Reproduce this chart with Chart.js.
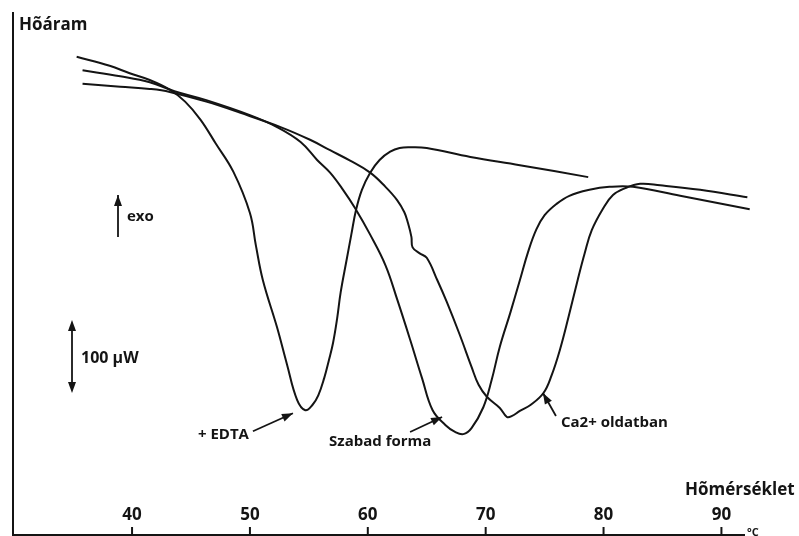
<!DOCTYPE html>
<html>
<head>
<meta charset="utf-8">
<script src="https://cdn.jsdelivr.net/npm/chart.js@4.4.0/dist/chart.umd.min.js"></script>
<style>
  body { margin: 0; background: #fff; }
  #wrap { width: 799px; height: 536px; }
</style>
</head>
<body>
<div id="wrap"><canvas id="dsc" width="799" height="536"></canvas></div>
<script>
// tick labels on the temperature axis (°C)
const xTicks = [40, 50, 60, 70, 80, 90];

// + EDTA
const edtaTemp = [35.3, 38.1, 39.8, 41.5, 43.2, 44.5, 45.8, 47.1, 48.6, 50.0, 50.5, 51.1, 52.3, 53.15, 54.0, 54.7, 55.3, 55.8, 56.3, 56.7, 57.05, 57.4, 57.7, 58.2, 58.6, 59.0, 59.5, 60.2, 61.0, 61.9, 62.7, 63.6, 65.0, 68.7, 72.9, 78.7];
const edtaFlow = [640, 628, 618, 609, 596, 580, 556, 524, 486, 431, 388, 341, 278, 228, 181, 167, 174, 187, 210, 234, 257, 290, 325, 368, 402, 435, 462, 485, 502, 513, 518, 519, 518, 506, 495, 479];

// Szabad forma
const freeTemp = [35.8, 39.0, 41.5, 43.6, 46.3, 50.0, 52.3, 54.3, 55.7, 56.8, 57.9, 58.9, 60.2, 61.5, 62.5, 63.6, 64.6, 65.5, 66.6, 67.4, 68.1, 68.8, 69.8, 70.5, 71.2, 72.1, 72.9, 73.6, 74.3, 75.0, 76.0, 77.1, 78.8, 80.5, 82.5, 86.5, 92.4];
const freeFlow = [622, 614, 606, 594, 582, 562, 546, 526, 502, 485, 462, 438, 402, 361, 315, 261, 210, 167, 147, 138, 135, 143, 171, 207, 252, 298, 341, 379, 409, 428, 443, 454, 462, 466, 466, 454, 436];

// Ca2+ oldatban
const caTemp = [35.8, 39.0, 41.5, 43.2, 46.3, 49.2, 52.6, 55.1, 56.8, 58.5, 60.2, 61.5, 62.5, 63.1, 63.4, 63.7, 63.8, 64.4, 65.0, 65.9, 66.7, 67.8, 68.8, 69.4, 70.1, 71.2, 71.8, 72.2, 72.9, 73.8, 74.9, 75.6, 76.3, 77.0, 77.8, 78.4, 79.0, 80.0, 80.8, 81.8, 83.1, 84.8, 88.2, 92.2];
const caFlow = [604, 600, 597, 593, 580, 565, 546, 529, 515, 501, 485, 466, 448, 432, 418, 399, 385, 377, 371, 341, 312, 268, 225, 201, 185, 170, 158, 159, 166, 174, 190, 214, 248, 290, 341, 377, 408, 438, 455, 464, 470, 468, 462, 452];

function pairs(xs, ys) {
    return xs.map((x, i) => ({ x: x, y: ys[i] }));
}

const INK = '#141414';
const FONT = '"Open Sans", "DejaVu Sans", sans-serif';

function arrowHead(ctx, x1, y1, x2, y2, len, half) {
    const a = Math.atan2(y2 - y1, x2 - x1);
    ctx.beginPath();
    ctx.moveTo(x2, y2);
    ctx.lineTo(x2 - len * Math.cos(a) + half * Math.sin(a), y2 - len * Math.sin(a) - half * Math.cos(a));
    ctx.lineTo(x2 - len * Math.cos(a) - half * Math.sin(a), y2 - len * Math.sin(a) + half * Math.cos(a));
    ctx.closePath();
    ctx.fill();
}

function arrow(ctx, x1, y1, x2, y2) {
    ctx.beginPath();
    ctx.moveTo(x1, y1);
    ctx.lineTo(x2, y2);
    ctx.stroke();
    arrowHead(ctx, x1, y1, x2, y2, 11, 4);
}

// axes, labels and the callouts
const overlay = {
    id: 'overlay',
    afterDatasetsDraw(chart) {
        const ctx = chart.ctx;
        const area = chart.chartArea;
        const sx = chart.scales.x;
        const sy = chart.scales.y;
        ctx.save();
        ctx.strokeStyle = INK;
        ctx.fillStyle = INK;
        ctx.lineWidth = 2;

        ctx.beginPath();
        ctx.moveTo(area.left, area.top);
        ctx.lineTo(area.left, area.bottom);
        ctx.lineTo(area.right, area.bottom);
        ctx.stroke();

        ctx.font = 'bold 17px ' + FONT;
        ctx.textAlign = 'center';
        ctx.textBaseline = 'middle';
        xTicks.forEach(t => {
            const x = sx.getPixelForValue(t);
            ctx.beginPath();
            ctx.moveTo(x, area.bottom);
            ctx.lineTo(x, area.bottom - 8);
            ctx.stroke();
            ctx.fillText(String(t), x, area.bottom - 20);
        });

        ctx.textAlign = 'left';
        ctx.fillText('Hõáram', area.left + 6, area.top + 13);
        ctx.fillText('Hõmérséklet', area.right - 60, area.bottom - 45);
        ctx.font = 'bold 11px ' + FONT;
        ctx.fillText('°C', area.right + 2, area.bottom - 2);

        // exo and 100 µW scale bar
        ctx.lineWidth = 1.8;
        arrow(ctx, 118, 237, 118, 195);
        ctx.font = 'bold 15px ' + FONT;
        ctx.fillText('exo', 127, 217);
        ctx.beginPath();
        ctx.moveTo(72, 325);
        ctx.lineTo(72, 388);
        ctx.stroke();
        arrowHead(ctx, 72, 340, 72, 320, 11, 4);
        arrowHead(ctx, 72, 380, 72, 393, 11, 4);
        ctx.font = 'bold 16px ' + FONT;
        ctx.fillText('100 µW', 81, 358);

        // callouts pointing at the curves
        const callouts = [
            { text: '+ EDTA', t: 53.65, v: 163, dx: -40, dy: 18, tx: -4, ty: 4, align: 'right' },
            { text: 'Szabad forma', t: 66.3, v: 158, dx: -32, dy: 15, tx: -81, ty: 10, align: 'left' },
            { text: 'Ca2+ oldatban', t: 74.86, v: 190, dx: 13, dy: 23, tx: 5, ty: 7, align: 'left' }
        ];
        ctx.font = 'bold 15px ' + FONT;
        callouts.forEach(c => {
            const hx = sx.getPixelForValue(c.t);
            const hy = sy.getPixelForValue(c.v);
            const bx = hx + c.dx;
            const by = hy + c.dy;
            arrow(ctx, bx, by, hx, hy);
            ctx.textAlign = c.align;
            ctx.fillText(c.text, bx + c.tx, by + c.ty);
        });
        ctx.restore();
    }
};

const lineStyle = {
    borderColor: INK,
    borderWidth: 2,
    pointRadius: 0,
    fill: false,
    tension: 0.4,
    clip: false
};

new Chart(document.getElementById('dsc'), {
    type: 'line',
    data: {
        datasets: [
            Object.assign({ label: '+ EDTA', data: pairs(edtaTemp, edtaFlow) }, lineStyle),
            Object.assign({ label: 'Szabad forma', data: pairs(freeTemp, freeFlow) }, lineStyle),
            Object.assign({ label: 'Ca2+ oldatban', data: pairs(caTemp, caFlow) }, lineStyle)
        ]
    },
    options: {
        responsive: false,
        animation: false,
        devicePixelRatio: 1,
        layout: { padding: { left: 13, top: 12, right: 54, bottom: 1 } },
        plugins: { legend: { display: false }, tooltip: { enabled: false } },
        scales: {
            x: { type: 'linear', min: 29.9, max: 92, display: false },
            y: { min: 0, max: 700, display: false }
        }
    },
    plugins: [overlay]
});
</script>
</body>
</html>
